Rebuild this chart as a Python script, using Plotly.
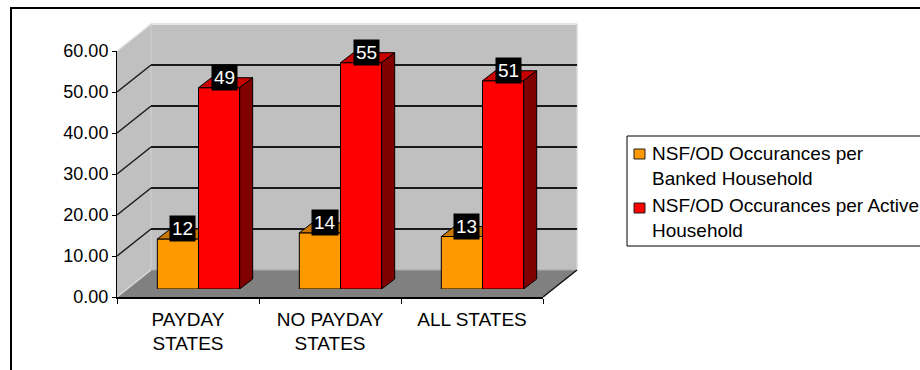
import plotly.graph_objects as go

# ---------------- data ----------------
categories = ["PAYDAY<br>STATES", "NO PAYDAY<br>STATES", "ALL STATES"]
series_names = ["NSF/OD Occurances per<br>Banked Household",
                "NSF/OD Occurances per Active<br>Household"]
banked = [12.2, 13.7, 12.8]
active = [49.1, 55.2, 50.8]
y_ticks = [0, 10, 20, 30, 40, 50, 60]
y_ticktext = [f"{v:.2f}" for v in y_ticks]

# ---------------- geometry / style ----------------
W, H = 920, 370
FX0, FX1 = 117, 543          # front plane x (px)
FY0, FY1 = 297, 51           # front plane y for 0 and 60 (px)
DX, DY = 34, -27             # back wall depth offset (px)
BDX, BDY = 10.5, -8          # bar plane depth offset (px)
BAR_W = 0.29                 # bar width in category units
PX_PER_CAT = (FX1 - FX0) / 3
PX_PER_VAL = (FY0 - FY1) / 60
TDX = 13 / PX_PER_CAT        # bar depth in data units
TDY = 10 / PX_PER_VAL

FONT = "Liberation Sans, Arial, sans-serif"
ORANGE, ORANGE_TOP = "#FF9900", "#C87800"
RED, RED_TOP, RED_SIDE = "#FF0000", "#C80000", "#800000"
WALL, FLOOR = "#C0C0C0", "#808080"


def px(x):
    return x / W


def py(y):
    return 1 - y / H


def yf(v):
    return FY0 - v * PX_PER_VAL


def path(points):
    return "M" + " L".join(f"{px(x):.5f},{py(y):.5f}" for x, y in points) + " Z"


shapes = []
# back wall
shapes.append(dict(type="path", xref="paper", yref="paper", layer="below",
                   path=path([(FX0 + DX, FY1 + DY), (FX1 + DX, FY1 + DY),
                              (FX1 + DX, FY0 + DY), (FX0 + DX, FY0 + DY)]),
                   fillcolor=WALL, line=dict(width=0)))
# left wall
shapes.append(dict(type="path", xref="paper", yref="paper", layer="below",
                   path=path([(FX0, FY1), (FX0 + DX, FY1 + DY),
                              (FX0 + DX, FY0 + DY), (FX0, FY0)]),
                   fillcolor=WALL, line=dict(width=0)))
# floor
shapes.append(dict(type="path", xref="paper", yref="paper", layer="below",
                   path=path([(FX0, FY0), (FX1, FY0),
                              (FX1 + DX, FY0 + DY), (FX0 + DX, FY0 + DY)]),
                   fillcolor=FLOOR, line=dict(width=0)))


def seg(x0, y0, x1, y1, color, width):
    return dict(type="line", xref="paper", yref="paper", layer="below",
                x0=px(x0), y0=py(y0), x1=px(x1), y1=py(y1),
                line=dict(color=color, width=width))


# light edges
shapes.append(seg(FX0, FY1, FX0 + DX, FY1 + DY, "#E4E4E4", 1.5))
shapes.append(seg(FX0 + DX, FY1 + DY, FX1 + DX, FY1 + DY, "#E4E4E4", 2))
shapes.append(seg(FX1 + DX, FY1 + DY, FX1 + DX, FY0 + DY, "#D8D8D8", 1.5))
shapes.append(seg(FX0 + DX, FY1 + DY, FX0 + DX, FY0 + DY, "#D0D0D0", 1))
shapes.append(seg(FX0, FY0, FX0 + DX, FY0 + DY, "#D8D8D8", 1.5))
shapes.append(seg(FX0 + DX, FY0 + DY, FX1 + DX, FY0 + DY, "#A8A8A8", 1))
# floor right edge
shapes.append(seg(FX1, FY0, FX1 + DX, FY0 + DY, "#111111", 1.5))
# left wall diagonals
for v in y_ticks[1:-1]:
    shapes.append(seg(FX0, yf(v), FX0 + DX, yf(v) + DY, "#1a1a1a", 1.5))

# legend (drawn)
LEG_X0, LEG_Y0, LEG_Y1 = 627, 136, 246
shapes.append(dict(type="rect", xref="paper", yref="paper",
                   x0=px(LEG_X0), x1=px(W + 20), y0=py(LEG_Y0), y1=py(LEG_Y1),
                   line=dict(color="black", width=1), fillcolor="rgba(0,0,0,0)"))
legend_colors = [ORANGE, RED]
legend_sq_y = [154, 208]
legend_txt_y = [166, 218]
for c, ys in zip(legend_colors, legend_sq_y):
    shapes.append(dict(type="rect", xref="paper", yref="paper",
                       x0=px(634), x1=px(645), y0=py(ys - 5), y1=py(ys + 5),
                       fillcolor=c, line=dict(color="#222", width=1)))
# outer border
shapes.append(dict(type="rect", xref="paper", yref="paper",
                   x0=px(11), x1=px(W + 20), y0=py(8), y1=py(H + 20),
                   line=dict(color="black", width=2), fillcolor="rgba(0,0,0,0)"))

fig = go.Figure()

# dummy traces to instantiate the back-wall and front planes
fig.add_trace(go.Scatter(x=[0], y=[0], mode="markers", marker=dict(opacity=0),
                         xaxis="x", yaxis="y", hoverinfo="skip", showlegend=False))
fig.add_trace(go.Scatter(x=[0], y=[0], mode="markers", marker=dict(opacity=0),
                         xaxis="x2", yaxis="y2", hoverinfo="skip", showlegend=False))

idx = list(range(len(categories)))
fig.add_trace(go.Bar(x=idx, y=banked, width=BAR_W, offset=-BAR_W,
                     marker=dict(color=ORANGE, line=dict(color="black", width=1)),
                     name=series_names[0], xaxis="x3", yaxis="y3", showlegend=False))
fig.add_trace(go.Bar(x=idx, y=active, width=BAR_W, offset=0,
                     marker=dict(color=RED, line=dict(color="black", width=1)),
                     name=series_names[1], xaxis="x3", yaxis="y3", showlegend=False))


def face(xs, ys, color):
    fig.add_trace(go.Scatter(x=xs, y=ys, mode="lines", fill="toself",
                             fillcolor=color, line=dict(color="black", width=1),
                             xaxis="x3", yaxis="y3", hoverinfo="skip",
                             showlegend=False))


for i, v in enumerate(banked):
    x0, x1 = i - BAR_W, i
    face([x0, x1, x1, x0 + TDX, x0], [v, v, v + TDY, v + TDY, v], ORANGE_TOP)
for i, v in enumerate(active):
    x0, x1 = i, i + BAR_W
    face([x0, x1, x1 + TDX, x0 + TDX, x0], [v, v, v + TDY, v + TDY, v], RED_TOP)
    face([x1, x1 + TDX, x1 + TDX, x1, x1], [0, TDY, v + TDY, v, 0], RED_SIDE)

annotations = []
for vals, off in ((banked, -BAR_W / 2), (active, BAR_W / 2)):
    for i, v in enumerate(vals):
        annotations.append(dict(x=i + off, y=v, xref="x3", yref="y3",
                                text=f"{round(v)}", showarrow=False,
                                xshift=5, yshift=10, bgcolor="black",
                                borderpad=2,
                                font=dict(color="white", size=19, family=FONT)))
for name, ty in zip(series_names, legend_txt_y):
    annotations.append(dict(x=px(651), y=py(ty), xref="paper", yref="paper",
                            xanchor="left", yanchor="middle", align="left",
                            text=name, showarrow=False, borderpad=0,
                            font=dict(color="black", size=19, family=FONT)))

fig.update_layout(
    width=W, height=H,
    margin=dict(l=0, r=0, t=0, b=0, autoexpand=False),
    paper_bgcolor="white", plot_bgcolor="rgba(0,0,0,0)",
    showlegend=False, barmode="overlay",
    font=dict(family=FONT, size=18, color="black"),
    shapes=shapes, annotations=annotations,
    xaxis=dict(domain=[px(FX0 + DX), px(FX1 + DX)], anchor="y",
               range=[-0.5, 2.5], showgrid=False, zeroline=False,
               showticklabels=False, ticks="", fixedrange=True),
    yaxis=dict(domain=[py(FY0 + DY), py(FY1 + DY)], anchor="x",
               range=[0, 60], tickvals=y_ticks[1:-1], showgrid=True,
               gridcolor="#1a1a1a", gridwidth=1.5, zeroline=False,
               showticklabels=False, ticks="", fixedrange=True),
    xaxis2=dict(domain=[px(FX0), px(FX1)], anchor="y2", range=[-0.5, 2.5],
                tickvals=idx, ticktext=categories, ticks="",
                ticklabelstandoff=4,
                showline=True, linecolor="black", linewidth=1.5,
                minor=dict(tickvals=[-0.5, 0.5, 1.5, 2.5], ticks="outside",
                           ticklen=5, tickcolor="black", tickwidth=1),
                showgrid=False, zeroline=False,
                tickfont=dict(size=19, color="black"), fixedrange=True),
    yaxis2=dict(domain=[py(FY0), py(FY1)], anchor="x2", range=[0, 60],
                tickvals=y_ticks, ticktext=y_ticktext, ticks="outside",
                ticklen=4, tickcolor="black", showline=True,
                linecolor="black", linewidth=1, showgrid=False,
                zeroline=False, tickfont=dict(size=18, color="black"),
                fixedrange=True),
    xaxis3=dict(domain=[px(FX0 + BDX), px(FX1 + BDX)], anchor="y3",
                range=[-0.5, 2.5], visible=False, fixedrange=True),
    yaxis3=dict(domain=[py(FY0 + BDY), py(FY1 + BDY)], anchor="x3",
                range=[0, 60], visible=False, fixedrange=True),
)

fig.write_html("out.html", config={"displayModeBar": False})
